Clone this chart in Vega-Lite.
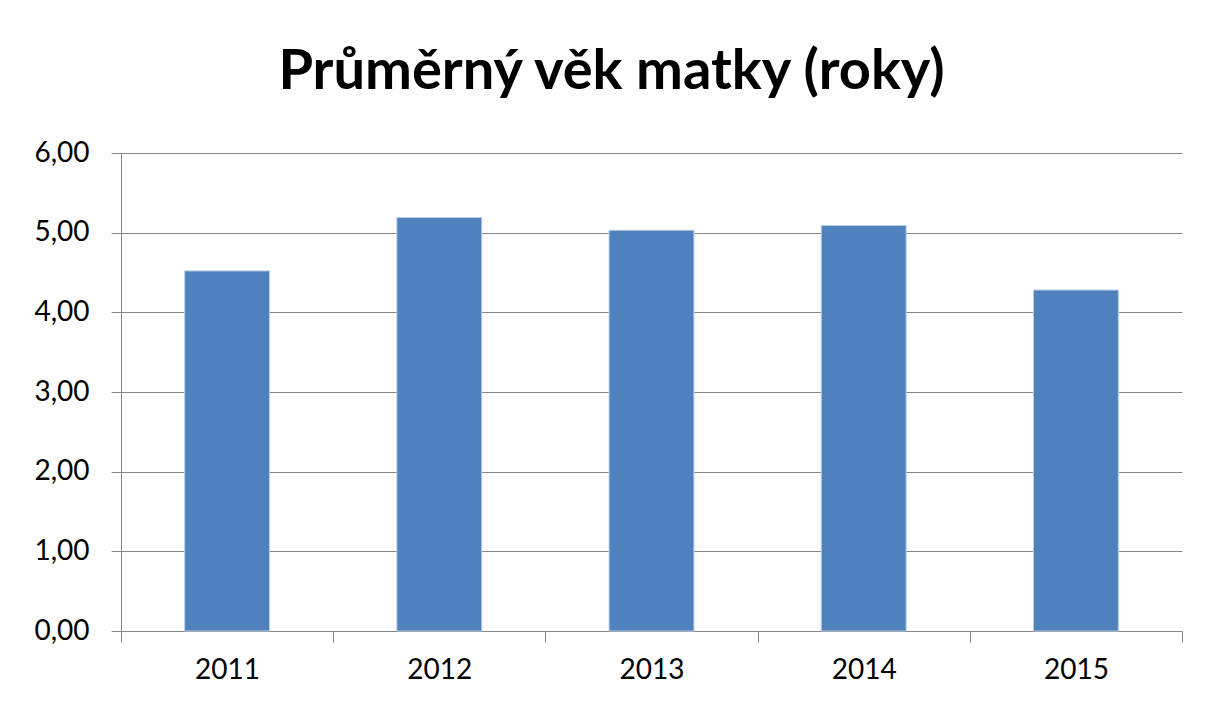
{
  "$schema": "https://vega.github.io/schema/vega-lite/v6.json",
  "width": 1061,
  "height": 478,
  "autosize": {"type": "none"},
  "padding": {"left": 121, "top": 153, "right": 26, "bottom": 78},
  "background": "white",
  "title": {
    "text": "Průměrný věk matky (roky)",
    "font": "Lato",
    "fontSize": 56,
    "fontWeight": "bold",
    "color": "#000000",
    "anchor": "middle",
    "baseline": "alphabetic",
    "offset": -6,
    "dx": -40
  },
  "data": {
    "values": [
      {"rok": "2011", "vek": 4.52},
      {"rok": "2012", "vek": 5.19},
      {"rok": "2013", "vek": 5.03},
      {"rok": "2014", "vek": 5.09},
      {"rok": "2015", "vek": 4.28}
    ]
  },
  "mark": {"type": "bar", "color": "#4F81BD", "stroke": "#B9CDE5", "strokeWidth": 1, "width": {"band": 0.4}},
  "encoding": {
    "x": {
      "field": "rok",
      "type": "ordinal",
      "scale": {"paddingInner": 0, "paddingOuter": 0},
      "axis": {
        "title": null,
        "labelAngle": 0,
        "tickBand": "extent",
        "tickSize": 11,
        "tickColor": "#868686",
        "domainColor": "#868686",
        "labelFont": "Lato",
        "labelFontSize": 28,
        "labelColor": "#000000",
        "labelPadding": 14
      }
    },
    "y": {
      "field": "vek",
      "type": "quantitative",
      "scale": {"domain": [0, 6], "nice": false},
      "axis": {
        "title": null,
        "values": [0, 1, 2, 3, 4, 5, 6],
        "labelExpr": "replace(format(datum.value, '.2f'), '.', ',')",
        "tickSize": 10,
        "tickColor": "#868686",
        "domainColor": "#868686",
        "gridColor": "#868686",
        "grid": true,
        "labelFont": "Lato",
        "labelFontSize": 28,
        "labelColor": "#000000",
        "labelAlign": "right",
        "labelPadding": 22
      }
    }
  },
  "config": {
    "view": {"stroke": null}
  }
}
